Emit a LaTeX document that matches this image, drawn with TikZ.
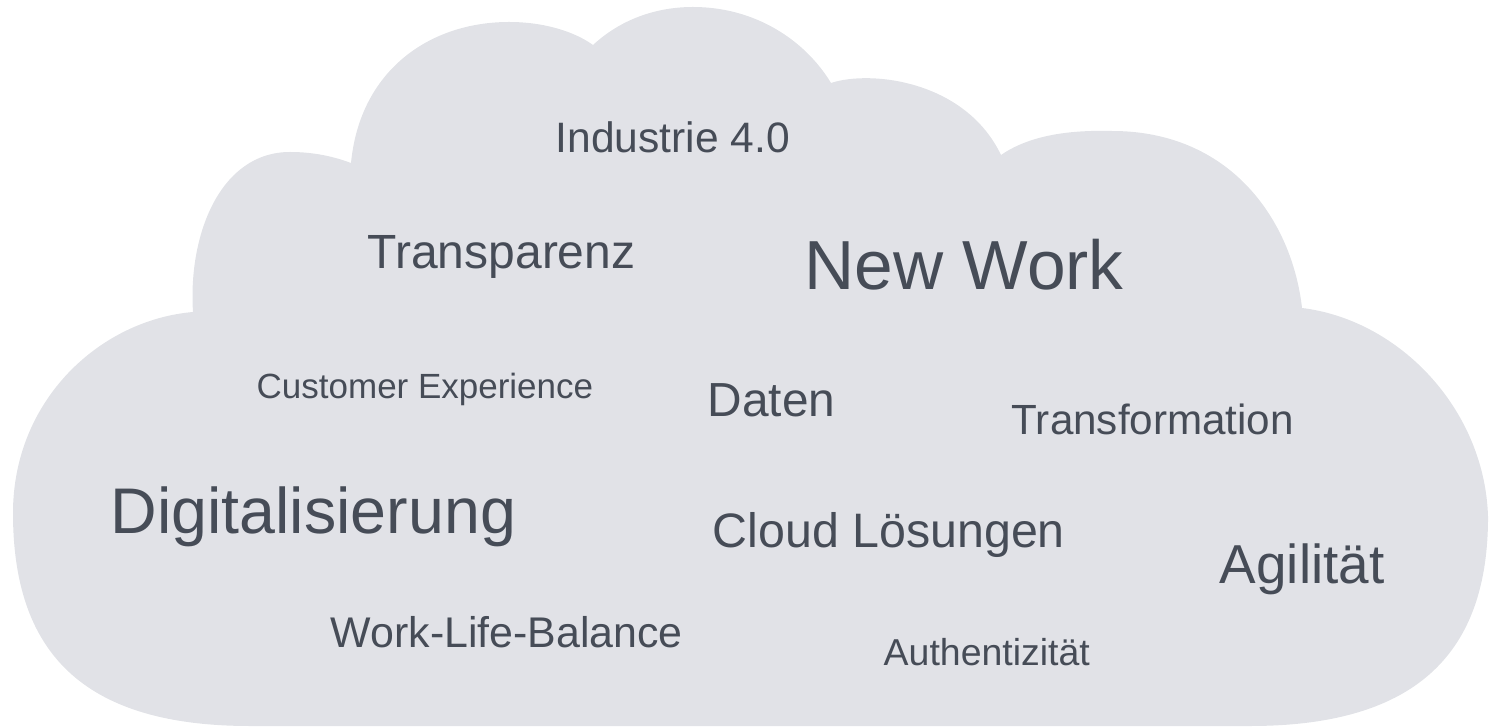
\documentclass[tikz,border=0pt]{standalone}
\usepackage{fontspec}
\setmainfont{Liberation Sans}
\definecolor{cloudfill}{HTML}{E1E2E7}
\definecolor{wordcol}{HTML}{464C57}
\tikzset{
  word/.style={anchor=base west, inner sep=0pt, text=wordcol},
}
\newcommand{\fsz}[1]{\fontsize{#1pt}{#1pt}\selectfont}
\begin{document}
\begin{tikzpicture}[x=0.01cm, y=-0.01cm]
  \useasboundingbox (0,0) rectangle (1489,728);
  % cloud outline
  \fill[cloudfill]
    (193,312) .. controls (188,235) and (220,152) .. (290,152)
    .. controls (315,152) and (335,157) .. (351,163)
    .. controls (360,70) and (430,22) .. (509,22)
    .. controls (545,22) and (575,32) .. (593,45)
    .. controls (620,20) and (655,7) .. (693,7)
    .. controls (755,7) and (805,40) .. (831,83)
    .. controls (870,70) and (965,80) .. (1001,155)
    .. controls (1030,135) and (1070,130) .. (1110,131)
    .. controls (1230,130) and (1292,220) .. (1302,308)
    .. controls (1400,320) and (1485,410) .. (1488,517)
    .. controls (1488,650) and (1420,726) .. (1250,726)
    -- (250,726)
    .. controls (80,726) and (13,650) .. (13,513)
    .. controls (13,400) and (100,320) .. (193,312)
    -- cycle;
  % words
  \node[word, font=\fsz{12.1}]  (ind)  at (555,153) {Industrie 4.0};
  \node[word, font=\fsz{13.65}] (tra)  at (367,269) {Transparenz};
  \node[word, font=\fsz{19.75}] (nw)   at (804,290) {New Work};
  \node[word, font=\fsz{9.95}]  (cx)   at (256,399) {Customer Experience};
  \node[word, font=\fsz{13.6}]  (dat)  at (707,417) {Daten};
  \node[word, font=\fsz{12.0}]  (trf)  at (1011,435) {Transformation};
  \node[word, font=\fsz{18.35}] (dig)  at (110,533) {Digitalisierung};
  \node[word, font=\fsz{13.75}] (cl)   at (712,547) {Cloud Lösungen};
  \node[word, font=\fsz{15.6}]  (agi)  at (1219,583) {Agilität};
  \node[word, font=\fsz{12.2}]  (wlb)  at (330,647) {Work-Life-Balance};
  \node[word, font=\fsz{10.65}] (aut)  at (883,665) {Authentizität};
\end{tikzpicture}
\end{document}
